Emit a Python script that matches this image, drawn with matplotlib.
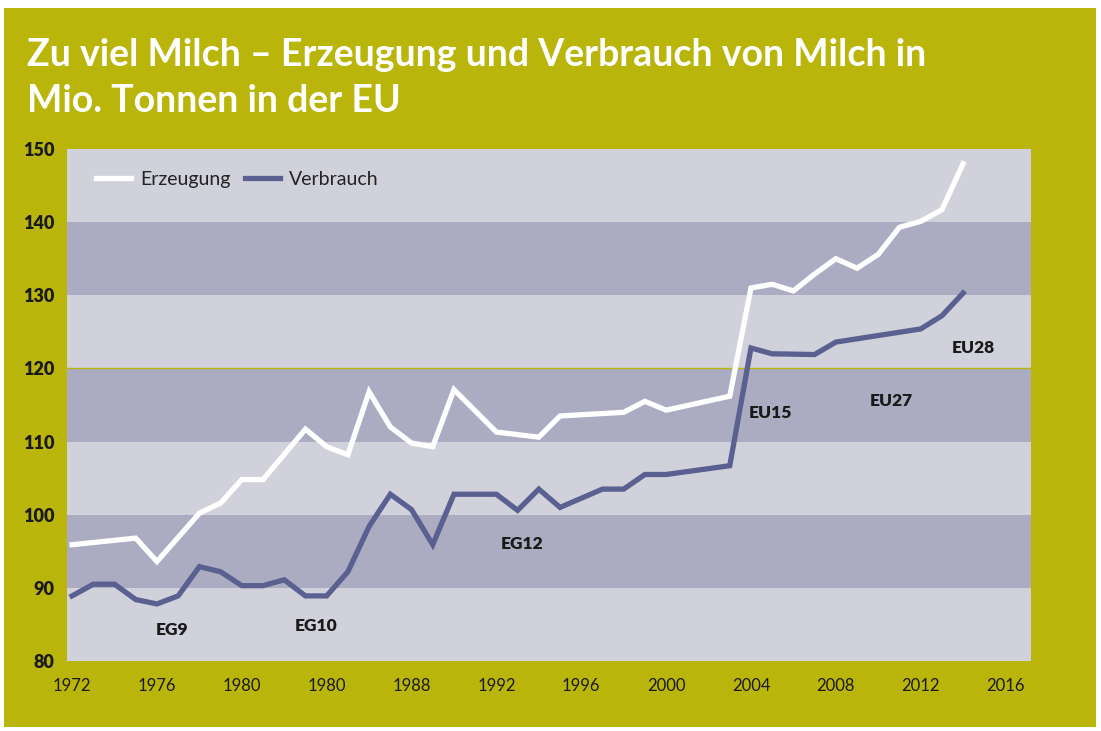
import matplotlib
matplotlib.use('Agg')
import matplotlib.pyplot as plt
from matplotlib.patches import Rectangle

plt.rcParams['font.family'] = ['Lato', 'DejaVu Sans']

# Erzeugung (Mio. t)
erz_years = [1972, 1975, 1976, 1978, 1979, 1980, 1981, 1983, 1984, 1985, 1986, 1987, 1988, 1989,
             1990, 1992, 1994, 1995, 1998, 1999, 2000, 2003, 2004, 2005, 2006, 2007, 2008, 2009,
             2010, 2011, 2012, 2013, 2014]
erz_vals = [95.9, 96.8, 93.6, 100.2, 101.6, 104.8, 104.8, 111.7, 109.3, 108.2, 116.8, 112.0, 109.8, 109.3,
            117.1, 111.3, 110.6, 113.5, 114.0, 115.5, 114.3, 116.2, 131.0, 131.5, 130.6, 132.9, 135.0, 133.7,
            135.6, 139.3, 140.1, 141.7, 148.0]

# Verbrauch (Mio. t)
ver_years = [1972, 1973, 1974, 1975, 1976, 1977, 1978, 1979, 1980, 1981, 1982, 1983, 1984, 1985,
             1986, 1987, 1988, 1989, 1990, 1992, 1993, 1994, 1995, 1997, 1998, 1999, 2000, 2003,
             2004, 2005, 2007, 2008, 2012, 2013, 2014]
ver_vals = [88.9, 90.5, 90.5, 88.4, 87.8, 88.9, 92.9, 92.2, 90.3, 90.3, 91.1, 88.9, 88.9, 92.2,
            98.4, 102.8, 100.7, 95.9, 102.8, 102.8, 100.6, 103.5, 101.0, 103.5, 103.5, 105.5, 105.5, 106.7,
            122.8, 122.0, 121.9, 123.6, 125.4, 127.2, 130.3]

x_ticks = list(range(1972, 2017, 4))
x_labels = ['1972', '1976', '1980', '1980', '1988', '1992', '1996', '2000', '2004', '2008', '2012', '2016']
y_ticks = [80, 90, 100, 110, 120, 130, 140, 150]

regions = ['EG9', 'EG10', 'EG12', 'EU15', 'EU27', 'EU28']
region_x = [1976.7, 1983.5, 1993.2, 2004.9, 2010.6, 2014.5]
region_y = [84.3, 84.8, 96.0, 113.9, 115.6, 122.8]

title_lines = ['Zu viel Milch – Erzeugung und Verbrauch von Milch in', 'Mio. Tonnen in der EU']

olive = '#b9b50a'
light = '#d1d1dc'
dark = '#ababc2'
blue = '#5a6090'

W, H = 1101, 731
fig = plt.figure(figsize=(W / 100, H / 100), dpi=100, facecolor='white')
fig.patches.append(Rectangle((4 / W, 4 / H), 1092 / W, 719 / H, transform=fig.transFigure,
                             facecolor=olive, edgecolor='none', zorder=-10))

ax = fig.add_axes([67 / W, (H - 661) / H, (1031 - 67) / W, (661 - 149) / H])
ax.set_xlim(1971.76, 2017.2)
ax.set_ylim(80, 150)
ax.set_facecolor(light)
for lo in range(90, 150, 20):
    ax.axhspan(lo, lo + 10, color=dark, lw=0, zorder=0)
ax.axhline(120, color=olive, lw=1, zorder=1)

ax.plot(erz_years, erz_vals, color='white', lw=3.8, solid_joinstyle='miter', label='Erzeugung', zorder=3)
ax.plot(ver_years, ver_vals, color=blue, lw=3.8, solid_joinstyle='miter', label='Verbrauch', zorder=3)

for name, x, y in zip(regions, region_x, region_y):
    ax.text(x, y, name, ha='center', va='center', fontsize=12.5, fontweight='heavy', color='#1a1a1a')

ax.set_xticks(x_ticks)
ax.set_xticklabels(x_labels, fontsize=12, color='#1a1a1a')
ax.set_yticks(y_ticks)
ax.set_yticklabels([str(v) for v in y_ticks], fontsize=13, fontweight='heavy', color='#1a1a1a')
ax.tick_params(axis='both', length=0)
ax.tick_params(axis='x', pad=12)
ax.tick_params(axis='y', pad=9)
for s in ax.spines.values():
    s.set_visible(False)

leg = ax.legend(loc='upper left', ncol=2, frameon=False, fontsize=14, handlelength=1.8,
                bbox_to_anchor=(0.012, 0.992), columnspacing=0.77, handletextpad=0.46)
for t in leg.get_texts():
    t.set_color('#222222')

for i, line in enumerate(title_lines):
    fig.text(27 / W, 1 - (66 + 46 * i) / H, line, color='white', fontsize=27, fontweight='bold',
             ha='left', va='baseline')

fig.savefig('out.png', dpi=100, facecolor=fig.get_facecolor())
